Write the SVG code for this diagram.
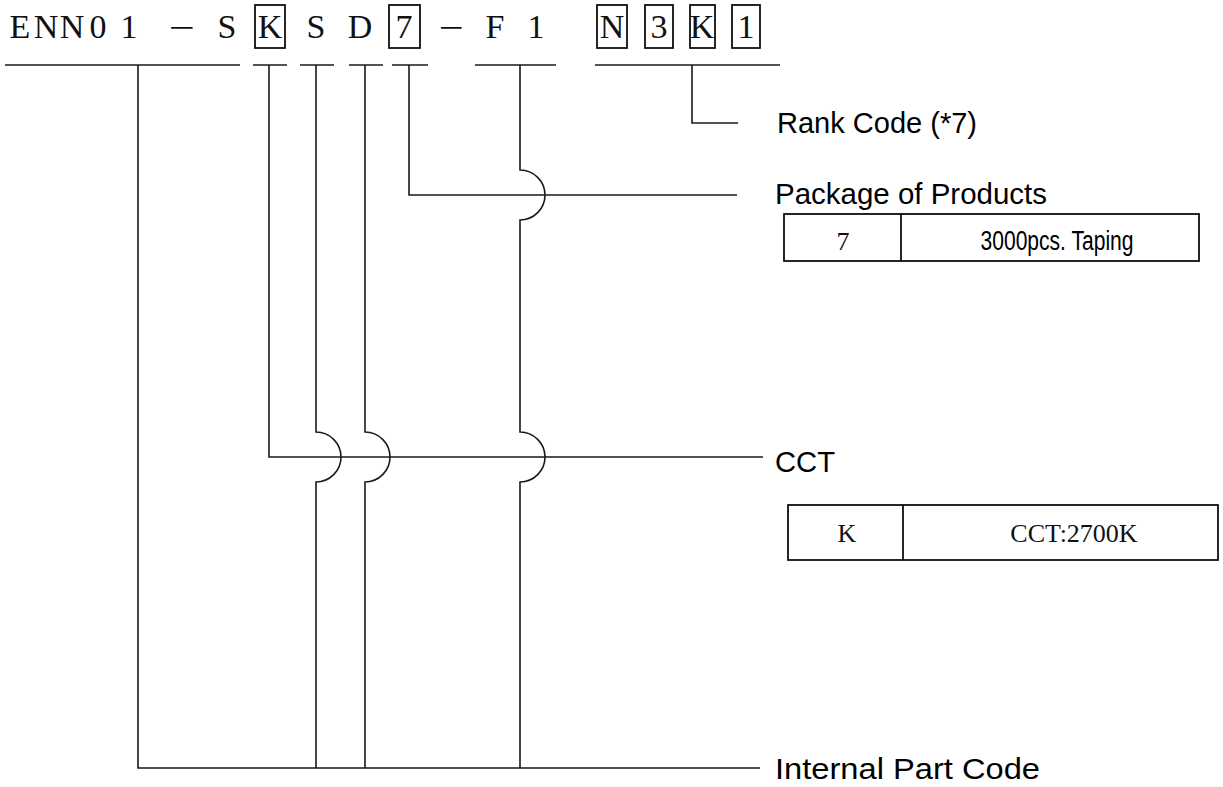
<svg xmlns="http://www.w3.org/2000/svg" width="1223" height="787" viewBox="0 0 1223 787">
<style>
.ln{fill:none;stroke:#1a1a1a;stroke-width:1.6}
.box{fill:none;stroke:#000;stroke-width:1.7}
.code{font-family:"Liberation Serif",serif;font-size:34px;fill:#111;text-anchor:middle}
.lbl{font-family:"Liberation Sans",Arial,sans-serif;font-size:29px;fill:#000}
.cell{font-family:"Liberation Serif",serif;font-size:26px;fill:#111;text-anchor:middle}
.cells{font-family:"Liberation Sans",Arial,sans-serif;font-size:27px;fill:#000;text-anchor:middle}
</style>
<rect width="1223" height="787" fill="#fff"/>
<g id="part-number">
<text class="code" x="20" y="38">E</text>
<text class="code" x="46" y="38">N</text>
<text class="code" x="72" y="38">N</text>
<text class="code" x="98" y="38">0</text>
<text class="code" x="129" y="38">1</text>
<text class="code" x="181.5" y="39" textLength="26" lengthAdjust="spacingAndGlyphs">−</text>
<text class="code" x="227" y="38">S</text>
<text class="code" x="270" y="38">K</text>
<text class="code" x="316" y="38">S</text>
<text class="code" x="360" y="38">D</text>
<text class="code" x="404" y="38">7</text>
<text class="code" x="451" y="39" textLength="25" lengthAdjust="spacingAndGlyphs">−</text>
<text class="code" x="495" y="38">F</text>
<text class="code" x="536" y="38">1</text>
<text class="code" x="612" y="38">N</text>
<text class="code" x="659" y="38">3</text>
<text class="code" x="702" y="38">K</text>
<text class="code" x="746" y="38">1</text>
<rect class="box" x="255" y="5" width="30" height="43"/>
<rect class="box" x="389" y="5" width="31" height="43"/>
<rect class="box" x="597" y="5" width="30" height="43"/>
<rect class="box" x="645" y="5" width="28" height="43"/>
<rect class="box" x="690" y="5" width="25" height="43"/>
<rect class="box" x="732" y="5" width="28" height="43"/>
</g>
<g id="connectors">
<path class="ln" d="M5 65H240M253 65H287M300 65H334M349 65H383M392 65H428M475 65H556M595 65H780"/>
<path class="ln" d="M138 65V768H760"/>
<path class="ln" d="M316 65V432A25 25 0 0 1 316 482V768"/>
<path class="ln" d="M365 65V432A25 25 0 0 1 365 482V768"/>
<path class="ln" d="M520 65V170A25 25 0 0 1 520 220V432A25 25 0 0 1 520 482V768"/>
<path class="ln" d="M269 65V457H763"/>
<path class="ln" d="M409 65V195H737"/>
<path class="ln" d="M692 65V123H738"/>
</g>
<g id="rank-code">
<text class="lbl" x="777" y="133" textLength="200" lengthAdjust="spacingAndGlyphs">Rank Code (*7)</text>
</g>
<g id="package">
<text class="lbl" x="775" y="204" font-size="30" textLength="272" lengthAdjust="spacingAndGlyphs">Package of Products</text>
<rect class="box" x="784" y="214" width="415" height="47"/>
<line class="box" x1="901" y1="214" x2="901" y2="261"/>
<text class="cell" x="843" y="250">7</text>
<text class="cells" x="1057" y="250" textLength="153" lengthAdjust="spacingAndGlyphs">3000pcs. Taping</text>
</g>
<g id="cct">
<text class="lbl" x="775" y="472" font-size="30" textLength="60" lengthAdjust="spacingAndGlyphs">CCT</text>
<rect class="box" x="788" y="505" width="430" height="55"/>
<line class="box" x1="903" y1="505" x2="903" y2="560"/>
<text class="cell" x="847" y="542">K</text>
<text class="cell" x="1074" y="542">CCT:2700K</text>
</g>
<g id="internal-part-code">
<text class="lbl" x="775" y="779" textLength="265" lengthAdjust="spacingAndGlyphs">Internal Part Code</text>
</g>
</svg>
